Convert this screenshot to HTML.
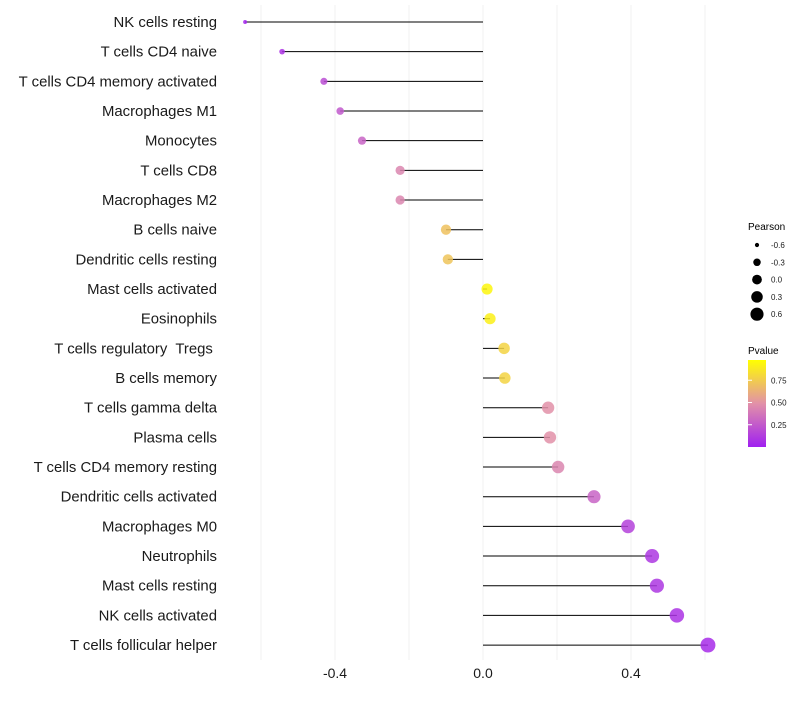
<!DOCTYPE html>
<html><head><meta charset="utf-8"><style>
body{margin:0;background:#fff;font-family:"Liberation Sans",sans-serif}
svg text{font-family:"Liberation Sans",sans-serif;white-space:pre}
</style></head><body>
<svg id="chart" width="800" height="700" xmlns="http://www.w3.org/2000/svg">
<defs><linearGradient id="pg" x1="0" y1="1" x2="0" y2="0">
<stop offset="0" stop-color="#a020f0"/><stop offset="0.5" stop-color="#e291a8"/><stop offset="1" stop-color="#ffff00"/></linearGradient></defs>
<g id="grid"></g><g id="marks"></g><g id="labels"></g><g id="xaxis"></g>
<g>
<text x="748" y="230" font-size="10" fill="#000">Pearson</text>
<g id="sizeleg"></g>
<text x="748" y="354" font-size="10" fill="#000">Pvalue</text>
<rect x="748" y="360" width="18" height="87" fill="url(#pg)"/>
<g id="colleg"></g>
</g>
</svg>
<script>
const categories=["NK cells resting","T cells CD4 naive","T cells CD4 memory activated","Macrophages M1","Monocytes","T cells CD8","Macrophages M2","B cells naive","Dendritic cells resting","Mast cells activated","Eosinophils","T cells regulatory  Tregs ","B cells memory","T cells gamma delta","Plasma cells","T cells CD4 memory resting","Dendritic cells activated","Macrophages M0","Neutrophils","Mast cells resting","NK cells activated","T cells follicular helper"];
const pearson=[-0.643,-0.543,-0.43,-0.386,-0.327,-0.224,-0.224,-0.1,-0.095,0.011,0.019,0.057,0.059,0.176,0.181,0.203,0.3,0.392,0.457,0.47,0.524,0.608];
const pvalue=[0.02,0.08,0.2,0.25,0.3,0.45,0.45,0.72,0.73,0.96,0.93,0.8,0.8,0.5,0.5,0.45,0.3,0.15,0.1,0.1,0.08,0.05];
const xTicks=[-0.4,0,0.4];
const xTickLabels=["-0.4","0.0","0.4"];
const gridVals=[-0.6,-0.4,-0.2,0,0.2,0.4,0.6];
const sizeLegVals=[-0.6,-0.3,0.0,0.3,0.6];
const sizeLegLabels=["-0.6","-0.3","0.0","0.3","0.6"];
const colLegVals=[0.25,0.5,0.75];
const colLegLabels=["0.25","0.50","0.75"];

const NS="http://www.w3.org/2000/svg";
const x=v=>483+v*370;
const y=i=>22+i*29.67;
const rad=v=>Math.sqrt(Math.max(3,30.6+41.6*v));
function lerp(a,b,t){return a.map((c,i)=>Math.round(c+(b[i]-c)*t));}
function col(p){const s=[[160,32,240],[226,145,168],[255,255,0]];
 const c=p<0.5?lerp(s[0],s[1],p/0.5):lerp(s[1],s[2],(p-0.5)/0.5);return `rgb(${c.join(',')})`;}
function mk(tag,attrs,parent){const e=document.createElementNS(NS,tag);for(const k in attrs)e.setAttribute(k,attrs[k]);document.getElementById(parent).appendChild(e);return e;}

gridVals.forEach(v=>{const l=mk('line',{x1:x(v),x2:x(v),y1:5,y2:660,stroke:'#f2f2f2','stroke-width':1},'grid');

});

categories.forEach((c,i)=>{
 const s=mk('line',{x1:x(0),x2:x(pearson[i]),y1:y(i),y2:y(i),stroke:'#000','stroke-width':1},'marks');
 
 
 const d=mk('circle',{cx:x(pearson[i]),cy:y(i),r:rad(pearson[i]),fill:col(pvalue[i]),'fill-opacity':0.85},'marks');
 
 
 const t=mk('text',{x:217,y:y(i)+5,'text-anchor':'end','font-size':14.9,fill:'#1a1a1a'},'labels');
 t.textContent=c;
 
 
});

xTicks.forEach((v,i)=>{const t=mk('text',{x:x(v),y:678,'text-anchor':'middle','font-size':14,fill:'#1a1a1a'},'xaxis');
t.textContent=xTickLabels[i];

});

sizeLegVals.forEach((v,i)=>{const yy=245+i*17.3;
 const c=mk('circle',{cx:757,cy:yy,r:rad(v)*0.88,fill:'#000'},'sizeleg');
 
 
 const t=mk('text',{x:771,y:yy+3,'font-size':8,fill:'#1a1a1a'},'sizeleg');
 t.textContent=sizeLegLabels[i];
 
 });

colLegVals.forEach((v,i)=>{const yy=447-v*89;
 const l=mk('line',{x1:748,x2:752,y1:yy,y2:yy,stroke:'#fff'},'colleg');
 
 
 const t=mk('text',{x:771,y:yy+3,'font-size':8,fill:'#1a1a1a'},'colleg');
 t.textContent=colLegLabels[i];
 
 });
</script>
</body></html>
